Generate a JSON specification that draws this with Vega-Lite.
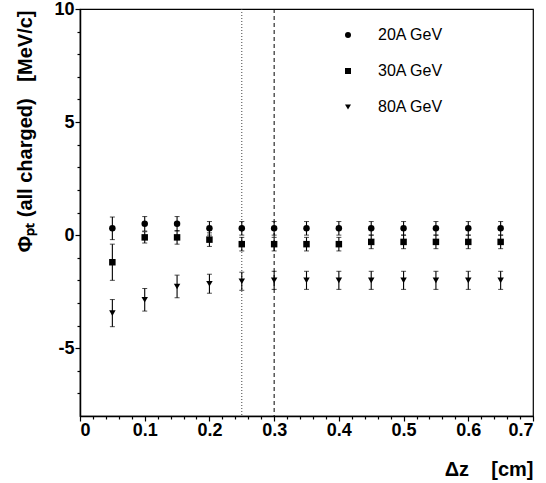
{
  "$schema": "https://vega.github.io/schema/vega-lite/v6.json",
  "width": 453,
  "height": 407,
  "autosize": "none",
  "padding": {"left": 80, "top": 9, "right": 13, "bottom": 67},
  "background": "white",
  "config": {
    "view": {"stroke": "black", "strokeWidth": 1.2},
    "font": "Liberation Sans",
    "axis": {
      "domainColor": "black",
      "tickColor": "black",
      "labelColor": "black",
      "titleColor": "black",
      "grid": false,
      "labelFont": "Liberation Sans",
      "labelFontWeight": "bold",
      "labelFontSize": 18,
      "titleFont": "Liberation Sans",
      "titleFontWeight": "bold",
      "titleFontSize": 20
    }
  },
  "datasets": {
    "pts": [
      {"dz": 0.05, "phi": 0.3, "err": 0.5, "energy": "20A GeV"},
      {"dz": 0.10, "phi": 0.5, "err": 0.32, "energy": "20A GeV"},
      {"dz": 0.15, "phi": 0.5, "err": 0.32, "energy": "20A GeV"},
      {"dz": 0.20, "phi": 0.3, "err": 0.3, "energy": "20A GeV"},
      {"dz": 0.25, "phi": 0.3, "err": 0.3, "energy": "20A GeV"},
      {"dz": 0.30, "phi": 0.3, "err": 0.3, "energy": "20A GeV"},
      {"dz": 0.35, "phi": 0.3, "err": 0.3, "energy": "20A GeV"},
      {"dz": 0.40, "phi": 0.3, "err": 0.3, "energy": "20A GeV"},
      {"dz": 0.45, "phi": 0.3, "err": 0.3, "energy": "20A GeV"},
      {"dz": 0.50, "phi": 0.3, "err": 0.3, "energy": "20A GeV"},
      {"dz": 0.55, "phi": 0.3, "err": 0.3, "energy": "20A GeV"},
      {"dz": 0.60, "phi": 0.3, "err": 0.3, "energy": "20A GeV"},
      {"dz": 0.65, "phi": 0.3, "err": 0.3, "energy": "20A GeV"},
      {"dz": 0.05, "phi": -1.2, "err": 0.8, "energy": "30A GeV"},
      {"dz": 0.10, "phi": -0.1, "err": 0.25, "energy": "30A GeV"},
      {"dz": 0.15, "phi": -0.1, "err": 0.3, "energy": "30A GeV"},
      {"dz": 0.20, "phi": -0.2, "err": 0.3, "energy": "30A GeV"},
      {"dz": 0.25, "phi": -0.4, "err": 0.3, "energy": "30A GeV"},
      {"dz": 0.30, "phi": -0.4, "err": 0.3, "energy": "30A GeV"},
      {"dz": 0.35, "phi": -0.4, "err": 0.3, "energy": "30A GeV"},
      {"dz": 0.40, "phi": -0.4, "err": 0.3, "energy": "30A GeV"},
      {"dz": 0.45, "phi": -0.3, "err": 0.3, "energy": "30A GeV"},
      {"dz": 0.50, "phi": -0.3, "err": 0.3, "energy": "30A GeV"},
      {"dz": 0.55, "phi": -0.3, "err": 0.3, "energy": "30A GeV"},
      {"dz": 0.60, "phi": -0.3, "err": 0.3, "energy": "30A GeV"},
      {"dz": 0.65, "phi": -0.3, "err": 0.3, "energy": "30A GeV"},
      {"dz": 0.05, "phi": -3.45, "err": 0.6, "energy": "80A GeV"},
      {"dz": 0.10, "phi": -2.86, "err": 0.5, "energy": "80A GeV"},
      {"dz": 0.15, "phi": -2.27, "err": 0.5, "energy": "80A GeV"},
      {"dz": 0.20, "phi": -2.15, "err": 0.42, "energy": "80A GeV"},
      {"dz": 0.25, "phi": -2.04, "err": 0.4, "energy": "80A GeV"},
      {"dz": 0.30, "phi": -2.0, "err": 0.4, "energy": "80A GeV"},
      {"dz": 0.35, "phi": -2.0, "err": 0.4, "energy": "80A GeV"},
      {"dz": 0.40, "phi": -2.0, "err": 0.4, "energy": "80A GeV"},
      {"dz": 0.45, "phi": -2.0, "err": 0.4, "energy": "80A GeV"},
      {"dz": 0.50, "phi": -2.0, "err": 0.4, "energy": "80A GeV"},
      {"dz": 0.55, "phi": -2.0, "err": 0.4, "energy": "80A GeV"},
      {"dz": 0.60, "phi": -2.0, "err": 0.4, "energy": "80A GeV"},
      {"dz": 0.65, "phi": -2.0, "err": 0.4, "energy": "80A GeV"}
    ]
  },
  "layer": [
    {
      "data": {"values": [{"x": 0.25}]},
      "mark": {"type": "rule", "color": "#444", "strokeWidth": 1, "strokeDash": [1, 2]},
      "encoding": {
        "x": {"field": "x", "type": "quantitative", "scale": {"domain": [0, 0.7]}, "axis": null}
      }
    },
    {
      "data": {"values": [{"x": 0.3}]},
      "mark": {"type": "rule", "color": "black", "strokeWidth": 1, "strokeDash": [4, 3]},
      "encoding": {
        "x": {"field": "x", "type": "quantitative", "scale": {"domain": [0, 0.7]}, "axis": null}
      }
    },
    {
      "data": {"name": "pts"},
      "mark": {"type": "errorbar", "ticks": {"size": 5, "color": "black"}, "rule": {"color": "black", "strokeWidth": 1.1}, "color": "black"},
      "encoding": {
        "x": {"field": "dz", "type": "quantitative", "scale": {"domain": [0, 0.7]}, "axis": null},
        "y": {"field": "phi", "type": "quantitative", "scale": {"domain": [-8, 10]}, "axis": null},
        "yError": {"field": "err"}
      }
    },
    {
      "data": {"name": "pts"},
      "mark": {"type": "point", "filled": true, "color": "black", "opacity": 0, "size": 1},
      "encoding": {
        "x": {"field": "dz", "type": "quantitative", "scale": {"domain": [0, 0.7]},
          "axis": {"orient": "bottom",
            "values": [0.02,0.04,0.06,0.08,0.12,0.14,0.16,0.18,0.22,0.24,0.26,0.28,0.32,0.34,0.36,0.38,0.42,0.44,0.46,0.48,0.52,0.54,0.56,0.58,0.62,0.64,0.66,0.68],
            "tickSize": 3, "tickWidth": 1.2, "labels": false, "domain": false, "title": null}},
        "y": {"field": "phi", "type": "quantitative", "scale": {"domain": [-8, 10]},
          "axis": {"orient": "left",
            "values": [-7,-6,-4,-3,-2,-1,1,2,3,4,6,7,8,9],
            "tickSize": 3, "tickWidth": 1.2, "labels": false, "domain": false, "title": null}}
      }
    },
    {
      "data": {"name": "pts"},
      "mark": {"type": "point", "filled": true, "color": "black", "opacity": 1, "size": 42},
      "encoding": {
        "x": {"field": "dz", "type": "quantitative", "scale": {"domain": [0, 0.7]},
          "axis": {"orient": "bottom", "values": [0,0.1,0.2,0.3,0.4,0.5,0.6,0.7], "labelExpr": "datum.value == 0 ? '0' : format(datum.value, '.1f')",
            "tickSize": 5, "tickWidth": 1.2, "domainWidth": 1.5, "labelPadding": 0, "title": "Δz\u00a0\u00a0\u00a0\u00a0[cm]", "titleX": 453, "titleY": 53, "titleAlign": "right", "titleBaseline": "middle"}},
        "y": {"field": "phi", "type": "quantitative", "scale": {"domain": [-8, 10]},
          "axis": {"orient": "left", "values": [-5, 0, 5, 10], "tickSize": 5, "tickWidth": 1.2, "domainWidth": 1.5, "labelPadding": 1,
            "labelExpr": "datum.value < 0 ? '-' + abs(datum.value) : '' + datum.value",
            "title": "Φₚₜ\u00a0(all charged)\u00a0\u00a0\u00a0[MeV/c]", "titleX": -55, "titleY": 1, "titleAngle": -90, "titleAlign": "right", "titleBaseline": "middle"}},
        "shape": {"field": "energy", "type": "nominal",
          "scale": {"domain": ["20A GeV", "30A GeV", "80A GeV"], "range": ["circle", "square", "triangle-down"]},
          "legend": {"orient": "none", "legendX": 260, "legendY": 18, "title": null, "labelFont": "Liberation Sans", "labelFontSize": 16, "labelColor": "black", "symbolSize": 36, "symbolFillColor": "black", "symbolStrokeColor": "black", "rowPadding": 20, "labelOffset": 22, "padding": 0}}
      }
    }
  ],
  "resolve": {"axis": {"x": "independent", "y": "independent"}}
}
